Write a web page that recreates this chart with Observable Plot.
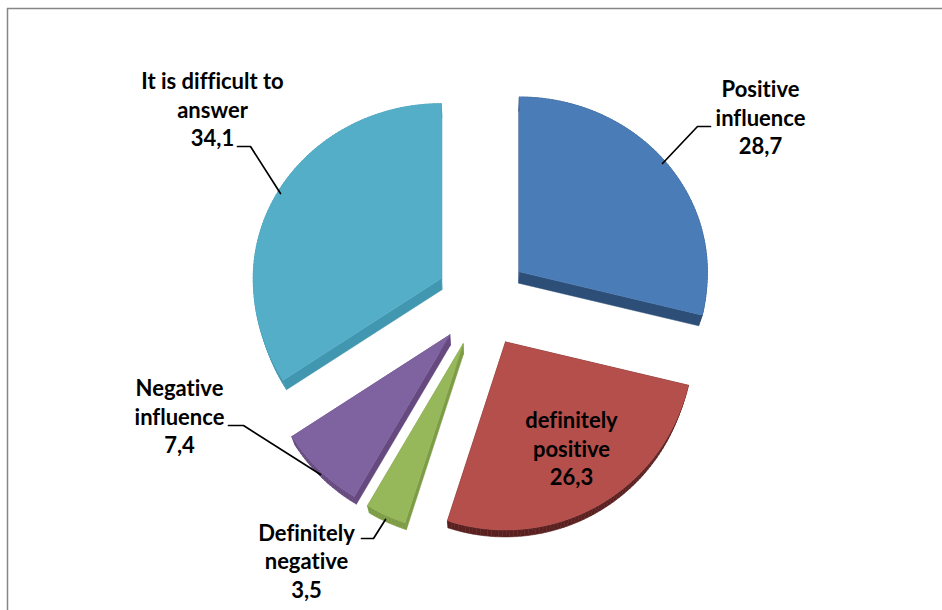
<!DOCTYPE html>
<html>
<head>
<meta charset="utf-8">
<style>html,body{margin:0;padding:0;background:#fff;overflow:hidden}svg{display:block}svg text{font-variant-ligatures:none}</style>
<script src="https://cdn.jsdelivr.net/npm/d3@7"></script>
<script src="https://cdn.jsdelivr.net/npm/@observablehq/plot@0.6"></script>
</head>
<body>
<script>
// Data, clockwise from 12 o'clock
const categories = ["Positive\ninfluence", "definitely\npositive", "Definitely\nnegative", "Negative\ninfluence", "It is difficult to\nanswer"];
const values = [28.7, 26.3, 3.5, 7.4, 34.1];
const valueLabels = ["28,7", "26,3", "3,5", "7,4", "34,1"];
const faceColors = ["#4a7cb7", "#b54f4b", "#96b85a", "#7e63a0", "#55aec7"];
const sideColors = ["#2d4e77", "#5a2020", "#7d9c45", "#65497f", "#4197b0"];

// Chart geometry
const W = 942, H = 610, cx = 482, cy = 300.5, R = 188;
const explode = 47 / R, kTop = 0.93, kBottom = 1.0;
const vanishY = -(940 - cy) / R, shrink = 0.983;
const at = (px, py) => [(px - cx) / R, (cy - py) / R];

const labelCenters = [[760, 116], [571, 447], [306, 559.5], [179, 415], [212, 108]];
const leaders = [
  [[662, 163], [697, 126], [710, 126]],
  [[385, 519], [373, 538], [361, 538]],
  [[320, 474], [243, 425], [228, 425]],
  [[280, 193], [250, 146], [237, 146]]
];

const total = d3.sum(values);
const cumulative = d3.cumsum(values);
const slices = values.map((v, i) => {
  const a0 = ((cumulative[i] - v) / total) * 2 * Math.PI;
  const a1 = (cumulative[i] / total) * 2 * Math.PI;
  const mid = (a0 + a1) / 2;
  const ax = explode * Math.sin(mid), ay = explode * Math.cos(mid);
  const n = Math.max(4, Math.ceil((a1 - a0) / 0.02));
  const pts = [[ax, ay]];
  for (let j = 0; j <= n; j++) {
    const a = a0 + ((a1 - a0) * j) / n, c = Math.cos(a);
    pts.push([ax + Math.sin(a), ay + c * (c > 0 ? kTop : kBottom)]);
  }
  pts.push([ax, ay]);
  return pts;
});
const lower = ([x, y]) => [x * shrink, vanishY + (y - vanishY) * shrink];

const marks = [
  Plot.ruleX([at(7, 0)[0]], {y1: at(0, 8)[1], y2: at(0, H)[1], stroke: "#868686", strokeWidth: 1.5}),
  Plot.ruleY([at(0, 8)[1]], {x1: at(7, 0)[0], x2: at(W, 0)[0], stroke: "#868686", strokeWidth: 1.5})
];
slices.forEach((pts, i) => {
  // extruded sides: one quad per edge between the face and its lower copy
  const quads = d3.pairs(pts).flatMap(([p, q], k) => {
    const lp = lower(p), lq = lower(q);
    return [p, q, lq, lp, p].map(([x, y]) => ({x, y, k}));
  });
  marks.push(Plot.line(quads, {x: "x", y: "y", z: "k", fill: sideColors[i], stroke: sideColors[i], strokeWidth: 0.5}));
  marks.push(Plot.line(pts, {x: "0", y: "1", fill: faceColors[i], stroke: faceColors[i], strokeWidth: 0.5}));
});
leaders.forEach(l => {
  marks.push(Plot.line(l.map(p => at(...p)), {x: "0", y: "1", stroke: "#000", strokeWidth: 1.7}));
});
marks.push(Plot.text(categories.map((c, i) => ({
  t: c + "\n" + valueLabels[i], p: at(...labelCenters[i])
})), {
  x: d => d.p[0], y: d => d.p[1], text: "t",
  fontFamily: "Lato, sans-serif", fontWeight: 700, fontSize: 22,
  lineHeight: 1.3, lineAnchor: "middle", textAnchor: "middle", fill: "#000"
}));

document.body.append(Plot.plot({
  width: W, height: H, margin: 0,
  x: {domain: [(0 - cx) / R, (W - cx) / R], range: [0, W], axis: null},
  y: {domain: [(cy - H) / R, cy / R], range: [H, 0], axis: null},
  style: {background: "#fff"},
  marks
}));
</script>
</body>
</html>
